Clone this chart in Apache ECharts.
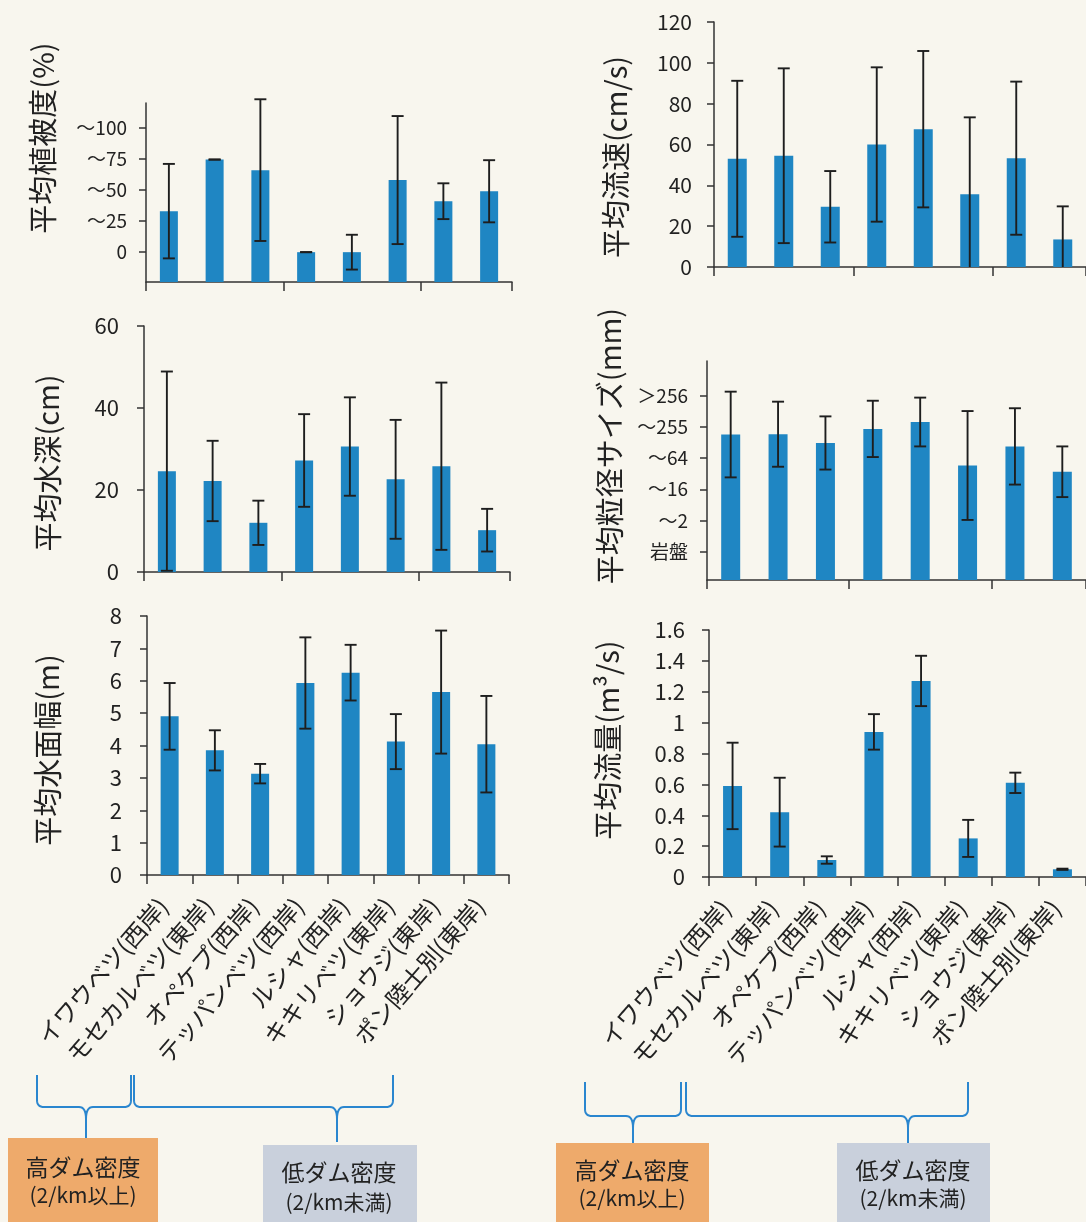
<!DOCTYPE html>
<html>
<head>
<meta charset="utf-8">
<style>
  html, body { margin: 0; padding: 0; background: #f8f6ee; }
  #chart { width: 1086px; height: 1222px; }
</style>
<script src="https://cdn.jsdelivr.net/npm/echarts@6/dist/echarts.min.js"></script>
</head>
<body>
<div id="chart"></div>
<script>
// Stream sites on the Shiretoko peninsula
const sites = ['イワウベツ(西岸)', 'モセカルベツ(東岸)', 'オペケプ(西岸)', 'テッパンベツ(西岸)',
               'ルシャ(西岸)', 'キキリベツ(東岸)', 'ショウジ(東岸)', 'ポン陸士別(東岸)'];

// Mean vegetation cover (%) and SD
const vegMean = [33, 74.5, 66, 0, 0, 58, 41, 49];
const vegSd   = [38, 0, 57, 0, 14, 51.5, 14.4, 25];
const vegTicks = [0, 25, 50, 75, 100];
const vegTickText = ['0', '～25', '～50', '～75', '～100'];

// Mean flow velocity (cm/s) and SD
const velMean = [53, 54.5, 29.5, 60, 67.5, 35.6, 53.3, 13.5];
const velSd   = [38.2, 42.8, 17.5, 37.8, 38.3, 37.7, 37.5, 16.2];

// Mean water depth (cm) and SD
const depMean = [24.6, 22.2, 12, 27.2, 30.6, 22.6, 25.8, 10.2];
const depSd   = [24.3, 9.8, 5.4, 11.3, 12, 14.5, 20.4, 5.2];

// Mean grain size class (1 = bedrock ... 6 = >256 mm) and SD
const grainMean = [4.75, 4.76, 4.48, 4.93, 5.15, 3.76, 4.37, 3.56];
const grainSd   = [1.37, 1.04, 0.85, 0.9, 0.78, 1.74, 1.22, 0.81];
const grainTicks = [1, 2, 3, 4, 5, 6];
const grainTickText = ['岩盤', '～2', '～16', '～64', '～255', '＞256'];

// Mean wetted width (m) and SD
const widMean = [4.9, 3.85, 3.13, 5.93, 6.25, 4.12, 5.65, 4.04];
const widSd   = [1.03, 0.62, 0.3, 1.41, 0.86, 0.85, 1.9, 1.49];

// Mean discharge (m3/s) and SD
const disMean = [0.59, 0.42, 0.11, 0.94, 1.27, 0.25, 0.61, 0.05];
const disSd   = [0.28, 0.223, 0.024, 0.115, 0.163, 0.12, 0.066, 0.004];

const BAR = '#1f86c3';
const INK = '#1e1e1e';
const JP = '"Noto Sans CJK JP", "Noto Sans", sans-serif';
const NARROW = '"Liberation Sans Narrow", "Noto Sans CJK JP", sans-serif';

const panels = [
  { title: '平均植被度(%)', tx: 43, ty: 138, grid: { left: 146, top: 103, width: 366, height: 179 },
    mean: vegMean, sd: vegSd, min: -24, max: 120, custom: vegTicks, customText: vegTickText,
    font: NARROW, fontSize: 19, margin: 19, barW: 18, labels: false },
  { title: '平均水深(cm)', tx: 48, ty: 463, grid: { left: 144, top: 326, width: 366, height: 246 },
    mean: depMean, sd: depSd, min: 0, max: 60, interval: 20,
    font: JP, fontSize: 22, margin: 25, barW: 18, labels: false },
  { title: '平均水面幅(m)', tx: 48, ty: 750, grid: { left: 147, top: 616, width: 362, height: 259 },
    mean: widMean, sd: widSd, min: 0, max: 8, interval: 1,
    font: JP, fontSize: 22, margin: 25, barW: 18, labels: true },
  { title: '平均流速(cm/s)', tx: 616, ty: 157, grid: { left: 714, top: 22, width: 377, height: 245 },
    mean: velMean, sd: velSd, min: 0, max: 120, interval: 20,
    font: JP, fontSize: 21, margin: 22, barW: 19, labels: false },
  { title: '平均粒径サイズ(mm)', tx: 610, ty: 446, grid: { left: 707, top: 361, width: 382, height: 219 },
    mean: grainMean, sd: grainSd, min: 0.1, max: 7.1, custom: grainTicks, customText: grainTickText,
    font: NARROW, fontSize: 19, margin: 19, barW: 19, labels: false },
  { title: '平均流量(m³/s)', tx: 608, ty: 740, grid: { left: 709, top: 630, width: 379, height: 247 },
    mean: disMean, sd: disSd, min: 0, max: 1.6, interval: 0.2,
    font: JP, fontSize: 22, margin: 24, barW: 19, labels: true }
];

// Bar from the axis floor to the mean, plus a ±SD whisker with caps
function barWithError(axisMin, barW) {
  return function (params, api) {
    const i = api.value(0), m = api.value(1), s = api.value(2);
    const top = api.coord([i, m]);
    const base = api.coord([i, axisMin]);
    const hi = api.coord([i, m + s]);
    const lowClipped = (m - s) < axisMin;
    const lo = api.coord([i, lowClipped ? axisMin : m - s]);
    const x = top[0], cap = 6;
    const lineStyle = { stroke: INK, lineWidth: 1.9 };
    const children = [
      { type: 'rect', shape: { x: x - barW / 2, y: top[1], width: barW, height: base[1] - top[1] },
        style: { fill: BAR } },
      { type: 'line', shape: { x1: x, y1: hi[1], x2: x, y2: lo[1] }, style: lineStyle },
      { type: 'line', shape: { x1: x - cap, y1: hi[1], x2: x + cap, y2: hi[1] }, style: lineStyle }
    ];
    if (!lowClipped) {
      children.push({ type: 'line', shape: { x1: x - cap, y1: lo[1], x2: x + cap, y2: lo[1] }, style: lineStyle });
    }
    return { type: 'group', children };
  };
}

const grids = [], xAxes = [], yAxes = [], series = [], graphics = [];

panels.forEach((p, k) => {
  grids.push(p.grid);
  xAxes.push({
    type: 'category', gridIndex: k, data: sites,
    axisLine: { onZero: false, lineStyle: { color: '#333', width: 1.5 } },
    axisTick: { show: true, length: 9, lineStyle: { color: '#333', width: 1.5 } },
    axisLabel: p.labels ? {
      show: true, interval: 0, rotate: 49, margin: 19, padding: [0, 10, 0, 0],
      fontFamily: JP, fontSize: 24, color: '#222'
    } : { show: false },
    splitLine: { show: false }
  });
  const y = {
    type: 'value', gridIndex: k, min: p.min, max: p.max,
    axisLine: { show: true, lineStyle: { color: '#333', width: 1.5 } },
    axisTick: { show: true, length: 7, lineStyle: { color: '#333', width: 1.5 } },
    axisLabel: { fontFamily: p.font, fontSize: p.fontSize, color: '#222', margin: p.margin },
    splitLine: { show: false }
  };
  if (p.custom) {
    y.axisTick.customValues = p.custom;
    y.axisLabel.customValues = p.custom;
    const txt = p.customText, vals = p.custom;
    y.axisLabel.formatter = (v) => {
      const idx = vals.findIndex(t => Math.abs(t - v) < 1e-6);
      return idx >= 0 ? txt[idx] : '';
    };
  } else {
    y.interval = p.interval;
  }
  yAxes.push(y);
  series.push({
    type: 'custom', xAxisIndex: k, yAxisIndex: k, clip: false, silent: true,
    encode: { x: 0, y: 1 },
    data: p.mean.map((m, i) => [i, m, p.sd[i]]),
    renderItem: barWithError(p.min, p.barW)
  });
  graphics.push({
    type: 'text', x: p.tx, y: p.ty, rotation: Math.PI / 2,
    style: { text: p.title, fontFamily: JP, fontSize: 29, fill: '#222', align: 'center', verticalAlign: 'middle' }
  });
});

// Group braces (sampled quadratic curves as polylines) and dam-density boxes
const BRACE = '#2a86cf';
function quad(p0, c, p1, n) {
  const pts = [];
  for (let t = 0; t <= n; t++) {
    const u = t / n;
    pts.push([(1 - u) * (1 - u) * p0[0] + 2 * (1 - u) * u * c[0] + u * u * p1[0],
              (1 - u) * (1 - u) * p0[1] + 2 * (1 - u) * u * c[1] + u * u * p1[1]]);
  }
  return pts;
}
function brace(x1, x2, xc, yTop, yBar, yTip) {
  const r = 7, d = 12;
  const left = [[x1, yTop]]
    .concat(quad([x1, yBar - r], [x1, yBar], [x1 + r, yBar], 8))
    .concat(quad([xc - r, yBar], [xc, yBar], [xc, yBar + d], 8))
    .concat([[xc, yTip]]);
  const right = [[x2, yTop]]
    .concat(quad([x2, yBar - r], [x2, yBar], [x2 - r, yBar], 8))
    .concat(quad([xc + r, yBar], [xc, yBar], [xc, yBar + d], 8));
  const style = { stroke: BRACE, lineWidth: 2, fill: null };
  return [
    { type: 'polyline', shape: { points: left }, style: style },
    { type: 'polyline', shape: { points: right }, style: style }
  ];
}
function box(x, y, w, fill, l1, l2, cx, y1, y2) {
  return [
    { type: 'rect', shape: { x: x, y: y, width: w, height: 1222 - y + 5 }, style: { fill: fill } },
    { type: 'text', x: cx, y: y1, style: { text: l1, fontFamily: JP, fontSize: 23, fill: '#222', align: 'center', verticalAlign: 'middle' } },
    { type: 'text', x: cx, y: y2, style: { text: l2, fontFamily: JP, fontSize: 21, fill: '#222', align: 'center', verticalAlign: 'middle' } }
  ];
}
const ORANGE = '#eeaa6b', GREY = '#c9d0dc';
graphics.push(...brace(37, 131, 86, 1075, 1107, 1140));
graphics.push(...brace(134, 393, 337, 1075, 1107, 1142));
graphics.push(...brace(585, 681, 633, 1082, 1116, 1146));
graphics.push(...brace(686, 968, 908, 1082, 1116, 1146));
graphics.push(...box(8, 1138, 150, ORANGE, '高ダム密度', '(2/km以上)', 83, 1167, 1195));
graphics.push(...box(263, 1145, 154, GREY, '低ダム密度', '(2/km未満)', 339, 1172, 1202));
graphics.push(...box(556, 1143, 153, ORANGE, '高ダム密度', '(2/km以上)', 632, 1170, 1198));
graphics.push(...box(837, 1143, 153, GREY, '低ダム密度', '(2/km未満)', 913, 1170, 1198));

const chart = echarts.init(document.getElementById('chart'), null, { renderer: 'canvas' });
chart.setOption({
  backgroundColor: '#f8f6ee',
  animation: false,
  grid: grids,
  xAxis: xAxes,
  yAxis: yAxes,
  series: series,
  graphic: graphics
});
</script>
</body>
</html>
